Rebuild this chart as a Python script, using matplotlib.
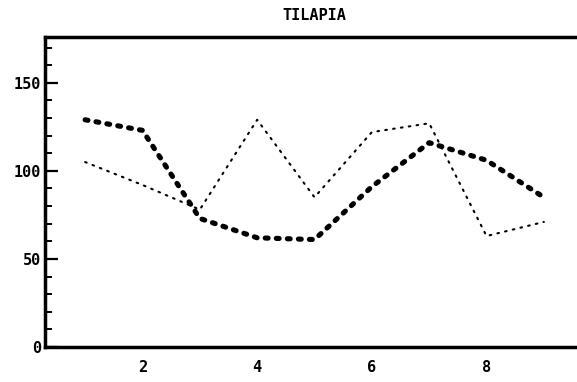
import matplotlib
matplotlib.use('Agg')
import matplotlib.pyplot as plt
from matplotlib.ticker import MultipleLocator

# Data
x = [1, 2, 3, 4, 5, 6, 7, 8, 9]
dashed_vals = [129, 123, 73, 62, 61, 91, 116, 106, 85]
dotted_vals = [105, 92, 78, 129, 85, 122, 127, 63, 71]
title = 'TILAPIA'

fig = plt.figure(figsize=(5.77, 3.82), dpi=100)
ax = fig.add_axes([45 / 577, (382 - 347) / 382, 539 / 577, 310 / 382])

ax.plot(x, dotted_vals, color='black', lw=1.5, linestyle=(0, (0.8, 3.0)),
        dash_capstyle='round', solid_joinstyle='round')
ax.plot(x, dashed_vals, color='black', lw=3.7, linestyle=(0, (0.55, 1.6)),
        dash_capstyle='round', solid_joinstyle='round')

ax.set_xlim(0.3, 9.7)
ax.set_ylim(0, 176)

ax.yaxis.set_major_locator(MultipleLocator(50))
ax.yaxis.set_minor_locator(MultipleLocator(10))
ax.xaxis.set_major_locator(MultipleLocator(2))
ax.xaxis.set_minor_locator(MultipleLocator(1))

ax.tick_params(axis='y', which='major', direction='in', length=9.5, width=1.6, pad=3)
ax.tick_params(axis='y', which='minor', direction='in', length=5, width=1.4)
ax.tick_params(axis='x', which='both', direction='out', length=1.5, width=1.2, pad=8)

for lab in ax.get_xticklabels() + ax.get_yticklabels():
    lab.set_family('DejaVu Sans Mono')
    lab.set_fontweight('bold')
    lab.set_fontsize(11)

for side in ['left', 'right', 'top', 'bottom']:
    ax.spines[side].set_linewidth(2.5)

ax.set_title(title, fontfamily='DejaVu Sans Mono', fontweight='bold',
             fontsize=11, pad=12.5)

fig.savefig('out.png', dpi=100)
